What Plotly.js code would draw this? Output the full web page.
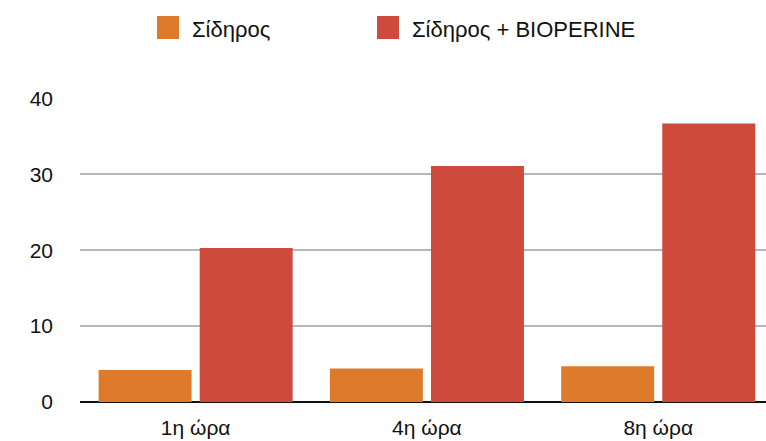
<!DOCTYPE html>
<html>
<head>
<meta charset="utf-8">
<script src="https://cdn.plot.ly/plotly-3.0.1.min.js"></script>
<style>
  html, body { margin: 0; padding: 0; background: #ffffff; }
  #chart { width: 766px; height: 441px; }
</style>
</head>
<body>
<div id="chart"></div>
<script>
const categories = ["1η ώρα", "4η ώρα", "8η ώρα"];
const seriesNames = ["Σίδηρος", "Σίδηρος + BIOPERINE"];
const ironValues = [4.2, 4.4, 4.7];
const bioperineValues = [20.3, 31.1, 36.7];
const yTickValues = [0, 10, 20, 30, 40];
const yTickLabels = ["0", "10", "20", "30", "40"];
const seriesColors = ["#DE7A2C", "#CE4A3C"];

const FONT = "Liberation Sans, Arial, Helvetica, sans-serif";

const traces = [
  { type: "bar", name: seriesNames[0], x: categories, y: ironValues,
    marker: { color: seriesColors[0] }, hoverinfo: "none" },
  { type: "bar", name: seriesNames[1], x: categories, y: bioperineValues,
    marker: { color: seriesColors[1] }, hoverinfo: "none" }
];

// custom legend (squares + labels) in paper coordinates
const legendX = [157, 377];
const shapes = [];
const annotations = [];
const W = 766, H = 441, ml = 80, mr = 0, mt = 98, mb = 39;
const pw = W - ml - mr, ph = H - mt - mb;
function px2paperX(px) { return (px - ml) / pw; }
function px2paperY(py) { return (H - mb - py) / ph; }
seriesNames.forEach((n, i) => {
  shapes.push({ type: "rect", xref: "paper", yref: "paper",
    x0: px2paperX(legendX[i]), x1: px2paperX(legendX[i] + 22),
    y0: px2paperY(39), y1: px2paperY(16),
    fillcolor: seriesColors[i], line: { width: 0 } });
  annotations.push({ xref: "paper", yref: "paper",
    x: px2paperX(legendX[i] + 33), y: px2paperY(29),
    xanchor: "left", yanchor: "middle", showarrow: false,
    text: n, font: { family: FONT, size: 22, color: "#111111" } });
});

const layout = {
  width: W, height: H,
  margin: { l: ml, r: mr, t: mt, b: mb, pad: 0 },
  paper_bgcolor: "#ffffff", plot_bgcolor: "#ffffff",
  showlegend: false,
  barmode: "group",
  bargap: 0.126,
  bargroupgap: 0.08,
  font: { family: FONT, size: 21, color: "#111111" },
  xaxis: {
    type: "category",
    range: [-0.5, 2.466],
    showgrid: false, zeroline: false, showline: false,
    ticks: "", ticklabelstandoff: 11,
    tickfont: { family: FONT, size: 21, color: "#111111" },
    fixedrange: true
  },
  yaxis: {
    range: [0, 40.05],
    tickvals: yTickValues, ticktext: yTickLabels,
    showgrid: true, gridcolor: "#B4B7B7", gridwidth: 1.6,
    zeroline: true, zerolinecolor: "#111111", zerolinewidth: 2,
    showline: false, ticks: "",
    ticklabelstandoff: 26,
    tickfont: { family: FONT, size: 21, color: "#111111" },
    fixedrange: true
  },
  shapes: shapes,
  annotations: annotations
};

Plotly.newPlot("chart", traces, layout, { displayModeBar: false, staticPlot: true });
</script>
</body>
</html>
